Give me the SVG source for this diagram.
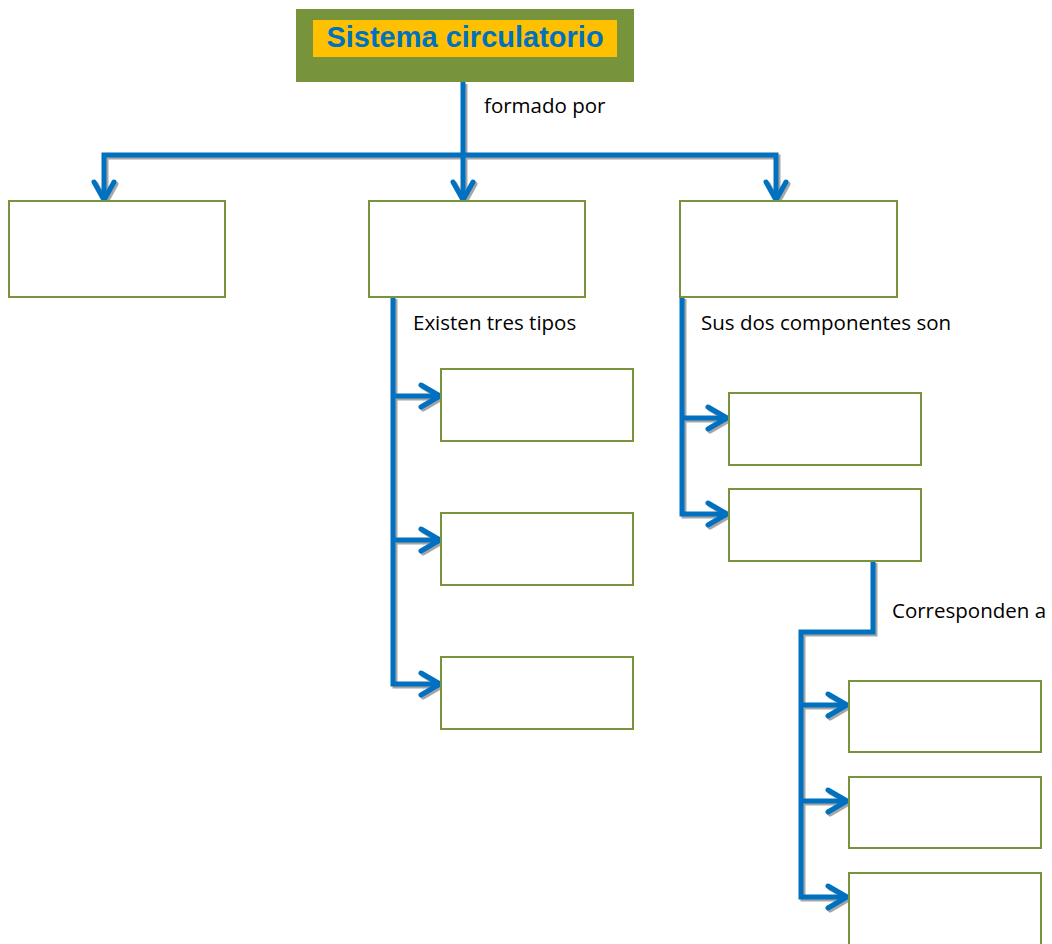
<svg xmlns="http://www.w3.org/2000/svg" xmlns:xlink="http://www.w3.org/1999/xlink" width="1052" height="944" viewBox="0 0 1052 944">
<style>
.box{fill:#FFFFFF;stroke:#77933C;stroke-width:2}
.lbl{font-family:"Open Sans","Noto Sans",sans-serif;font-size:20.5px;fill:#000000}
.title{font-family:"Liberation Sans",Arial,sans-serif;font-weight:bold;font-size:29px;fill:#0070C0}
.cn{fill:none;stroke-width:5;stroke-linejoin:miter;stroke-linecap:butt}
.hd{fill:none;stroke-width:5;stroke-linejoin:round;stroke-linecap:round}
</style>
<defs>
<g id="conn-paths">
<path class="cn" d="M463,82 V200"/>
<path class="cn" d="M104,198 V155 H776 V198"/>
<path class="hd" d="M94,182 L104,200 L114,182"/>
<path class="hd" d="M453,182 L463,200 L473,182"/>
<path class="hd" d="M766,182 L776,200 L786,182"/>
<path class="cn" d="M393,297 V684 H438"/>
<path class="cn" d="M393,396 H438"/>
<path class="cn" d="M393,540 H438"/>
<path class="hd" d="M421,385 L440,396 L421,407"/>
<path class="hd" d="M421,529 L440,540 L421,551"/>
<path class="hd" d="M421,673 L440,684 L421,695"/>
<path class="cn" d="M682,297 V514 H725"/>
<path class="cn" d="M682,418 H725"/>
<path class="hd" d="M708,407 L727,418 L708,429"/>
<path class="hd" d="M708,503 L727,514 L708,525"/>
<path class="cn" d="M873,561 V632 H801 V897 H845"/>
<path class="cn" d="M801,705 H845"/>
<path class="cn" d="M801,801 H845"/>
<path class="hd" d="M828,694 L847,705 L828,716"/>
<path class="hd" d="M828,790 L847,801 L828,812"/>
<path class="hd" d="M828,886 L847,897 L828,908"/>
</g>
</defs>
<rect width="1052" height="944" fill="#FFFFFF"/>
<g id="connectors">
<use xlink:href="#conn-paths" href="#conn-paths" stroke="#A6A6A6" transform="translate(2,2)"/>
<use xlink:href="#conn-paths" href="#conn-paths" stroke="#0070C0"/>
</g>
<g id="title">
<rect x="296" y="9" width="338" height="73" fill="#77933C"/>
<rect x="313" y="20" width="304" height="37" fill="#FFC000"/>
<text class="title" x="465" y="47" text-anchor="middle">Sistema circulatorio</text>
</g>
<g id="box1"><rect class="box" x="9" y="201" width="216" height="96"/></g>
<g id="box2"><rect class="box" x="369" y="201" width="216" height="96"/></g>
<g id="box3"><rect class="box" x="680" y="201" width="217" height="96"/></g>
<g id="tipo1"><rect class="box" x="441" y="369" width="192" height="72"/></g>
<g id="tipo2"><rect class="box" x="441" y="513" width="192" height="72"/></g>
<g id="tipo3"><rect class="box" x="441" y="657" width="192" height="72"/></g>
<g id="comp1"><rect class="box" x="729" y="393" width="192" height="72"/></g>
<g id="comp2"><rect class="box" x="729" y="489" width="192" height="72"/></g>
<g id="corr1"><rect class="box" x="849" y="681" width="192" height="71"/></g>
<g id="corr2"><rect class="box" x="849" y="777" width="192" height="71"/></g>
<g id="corr3"><rect class="box" x="849" y="873" width="192" height="80"/></g>
<g id="labels">
<text class="lbl" x="484" y="113">formado por</text>
<text class="lbl" x="413" y="330">Existen tres tipos</text>
<text class="lbl" x="701" y="330">Sus dos componentes son</text>
<text class="lbl" x="892" y="618">Corresponden a</text>
</g>
</svg>
